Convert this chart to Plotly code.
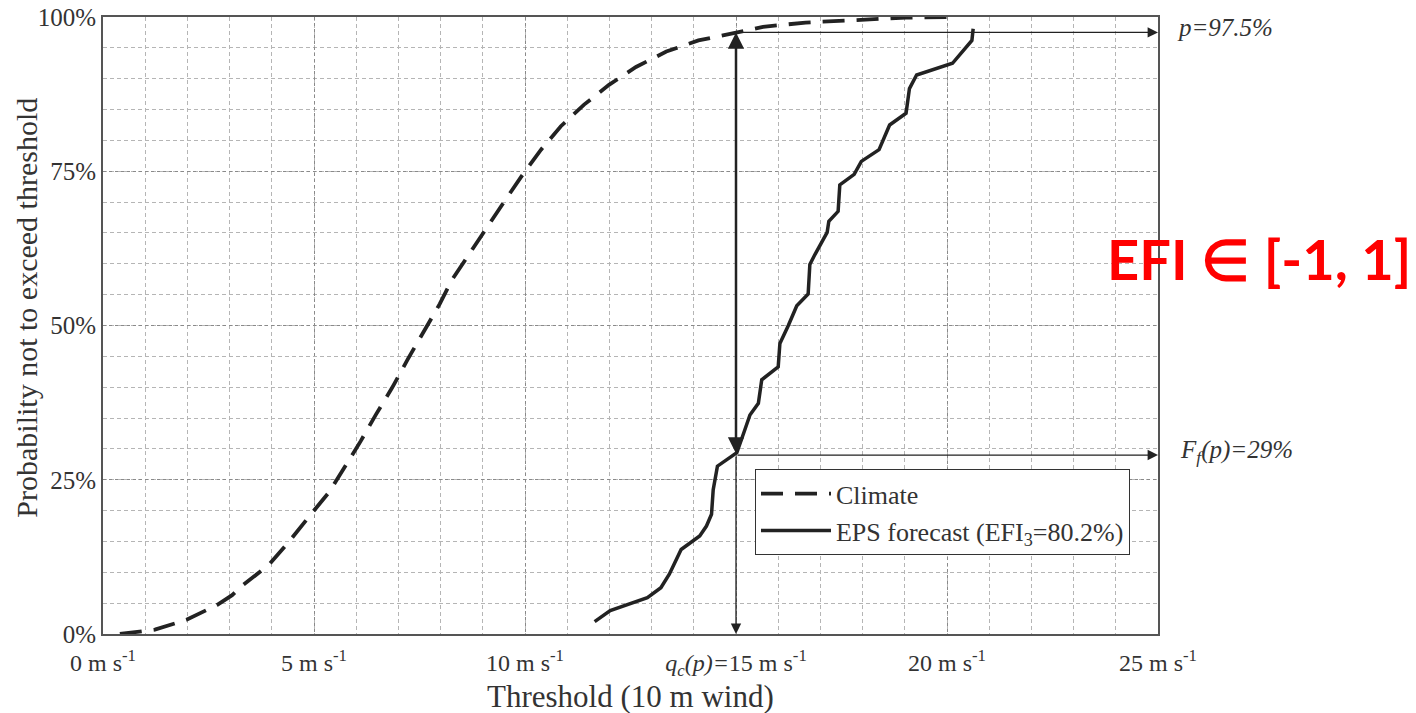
import plotly.graph_objects as go

# Climate CDF (dashed), wind speed in m/s vs probability in %
climate_x = [0.40, 0.87, 1.23, 1.98, 2.42, 2.70, 3.06, 3.33, 3.93, 4.40, 4.88, 5.36, 5.75, 6.11,
             6.47, 6.85, 7.22, 7.58, 7.98, 8.26, 8.69, 9.07, 9.49, 9.92, 10.38, 10.85, 11.40,
             11.99, 12.63, 13.35, 14.11, 15.0, 15.64, 16.65, 17.92, 19.03, 20.17]
climate_y = [0.0, 0.4, 0.7, 2.3, 3.7, 4.7, 6.3, 8.0, 11.2, 14.9, 19.0, 23.0, 27.3, 31.3,
             35.6, 39.9, 44.5, 48.8, 53.5, 57.3, 61.6, 65.6, 69.9, 74.2, 78.5, 82.3, 85.8,
             89.0, 91.9, 94.4, 96.2, 97.5, 98.4, 99.1, 99.6, 99.9, 100.0]

# EPS forecast CDF (solid)
eps_x = [11.65, 12.02, 12.9, 13.22, 13.42, 13.70, 14.14, 14.30, 14.42, 14.46, 14.56, 15.02,
         15.21, 15.33, 15.53, 15.61, 16.0, 16.04, 16.24, 16.44, 16.71, 16.75, 16.87, 17.1,
         17.16, 17.2, 17.42, 17.46, 17.80, 17.97, 18.39, 18.64, 19.03, 19.11, 19.28, 20.13,
         20.59, 20.62]
eps_y = [2.0, 3.8, 5.9, 7.5, 9.7, 13.7, 15.9, 17.5, 19.4, 23.4, 27.2, 29.4,
         33.1, 35.5, 37.4, 41.2, 43.3, 47.1, 50.0, 53.2, 55.1, 59.9, 61.5, 64.2,
         65.1, 66.9, 68.5, 72.8, 74.5, 76.6, 78.5, 82.5, 84.4, 88.4, 90.6, 92.5,
         96.2, 98.1]

x_tickvals = [0, 5, 10, 15, 20, 25]
x_ticktext = ["0 m s<sup>-1</sup>", "5 m s<sup>-1</sup>", "10 m s<sup>-1</sup>",
              "<i>q<sub>c</sub>(p)=</i>15 m s<sup>-1</sup>", "20 m s<sup>-1</sup>",
              "25 m s<sup>-1</sup>"]
y_tickvals = [0, 25, 50, 75, 100]
y_ticktext = ["0%", "25%", "50%", "75%", "100%"]

q_c = 15.0      # climate quantile threshold
p_level = 97.5  # probability level
f_f = 29.0      # forecast CDF at q_c

serif = "Liberation Serif"
fig = go.Figure()
fig.add_trace(go.Scatter(x=climate_x, y=climate_y, mode="lines", name="Climate",
                         line=dict(color="#222", width=3.8, dash="22px,12px")))
fig.add_trace(go.Scatter(x=eps_x, y=eps_y, mode="lines",
                         name="EPS forecast (EFI<sub>3</sub>=80.2%)",
                         line=dict(color="#222", width=3.5)))

arrow_color = "#222"
annotations = [
    dict(x=q_c, y=p_level, ax=q_c, ay=f_f, xref="x", yref="y", axref="x", ayref="y",
         text="", showarrow=True, arrowhead=2, arrowsize=1.3, arrowwidth=2.5,
         arrowside="end+start", arrowcolor=arrow_color),
    dict(x=q_c, y=0, ax=q_c, ay=f_f, xref="x", yref="y", axref="x", ayref="y",
         text="", showarrow=True, arrowhead=2, arrowsize=1.6, arrowwidth=1.3,
         arrowcolor=arrow_color),
    dict(x=25, y=p_level, ax=q_c, ay=p_level, xref="x", yref="y", axref="x", ayref="y",
         text="", showarrow=True, arrowhead=2, arrowsize=1.6, arrowwidth=1.3,
         arrowcolor=arrow_color),
    dict(x=25, y=f_f, ax=q_c, ay=f_f, xref="x", yref="y", axref="x", ayref="y",
         text="", showarrow=True, arrowhead=2, arrowsize=1.6, arrowwidth=1.3,
         arrowcolor=arrow_color),
    dict(x=1.016, y=p_level + 0.8, xref="paper", yref="y", xanchor="left", yanchor="middle",
         text="<i>p=97.5%</i>", showarrow=False,
         font=dict(family=serif, size=25, color="#333")),
    dict(x=1.019, y=f_f + 0.5, xref="paper", yref="y", xanchor="left", yanchor="middle",
         text="<i>F<sub>f</sub>(p)=29%</i>", showarrow=False,
         font=dict(family=serif, size=25, color="#333")),
    dict(x=1.0957, y=0.608, xref="paper", yref="paper", xanchor="center", yanchor="middle",
         text="<b>EFI ∈ [-1, 1]</b>", showarrow=False,
         font=dict(family="Lato", size=56, color="#FF0000")),
    dict(x=0.5, y=-0.102, xref="paper", yref="paper", xanchor="center", yanchor="middle",
         text="Threshold (10 m wind)", showarrow=False,
         font=dict(family=serif, size=31, color="#333")),
    dict(x=-0.072, y=0.529, xref="paper", yref="paper", xanchor="center", yanchor="middle",
         text="Probability not to exceed threshold", showarrow=False, textangle=-90,
         font=dict(family=serif, size=30, color="#333")),
]

fig.update_layout(
    width=1416, height=713,
    margin=dict(l=103, r=258, t=17, b=79, autoexpand=False),
    paper_bgcolor="white", plot_bgcolor="white",
    font=dict(family=serif, color="#333"),
    annotations=annotations,
    showlegend=True,
    legend=dict(x=0.618, y=0.267, xanchor="left", yanchor="top",
                bgcolor="white", bordercolor="#333", borderwidth=1,
                font=dict(family=serif, size=26, color="#333"),
                itemwidth=70, tracegroupgap=0),
)
fig.update_xaxes(
    range=[0, 25], tickmode="array", tickvals=x_tickvals, ticktext=x_ticktext,
    tickfont=dict(family=serif, size=24, color="#333"), ticks="", ticklabelstandoff=6,
    showline=True, mirror=True, linecolor="#555", linewidth=2, automargin=False,
    showgrid=True, gridcolor="#8a8a8a", griddash="dot", gridwidth=1,
    minor=dict(tickmode="linear", tick0=0, dtick=1, showgrid=True,
               gridcolor="#b5b5b5", griddash="4px,3px", gridwidth=1),
    zeroline=False,
)
fig.update_yaxes(
    range=[0, 100], tickmode="array", tickvals=y_tickvals, ticktext=y_ticktext,
    tickfont=dict(family=serif, size=25, color="#333"), ticks="", automargin=False,
    showline=True, mirror=True, linecolor="#555", linewidth=2,
    showgrid=True, gridcolor="#8a8a8a", griddash="dot", gridwidth=1,
    minor=dict(tickmode="linear", tick0=0, dtick=5, showgrid=True,
               gridcolor="#b5b5b5", griddash="4px,3px", gridwidth=1),
    zeroline=False,
)
fig.write_html("out.html")
